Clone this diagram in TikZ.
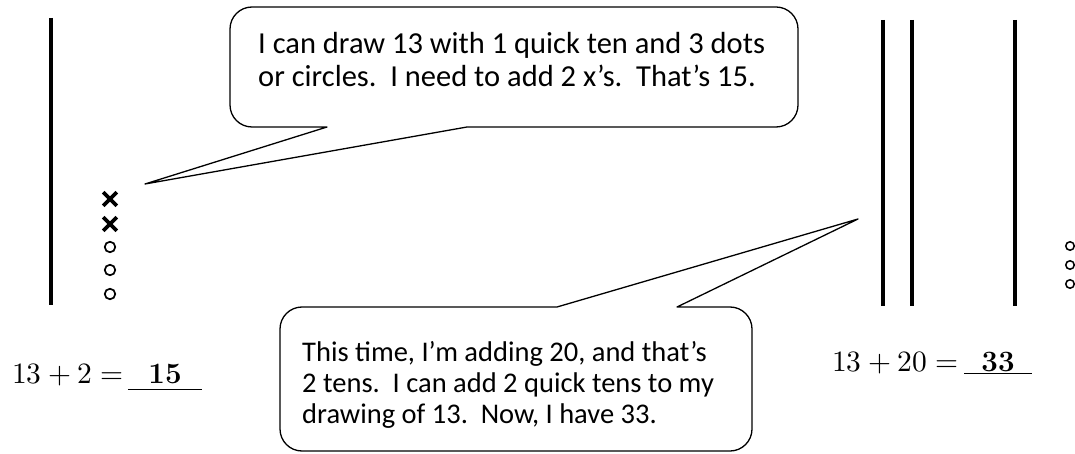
\documentclass[tikz,border=0pt]{standalone}
\usepackage{amsmath}
\usepackage{fontspec}
\usepackage{unicode-math}
\newfontfamily\talkfont{Carlito}
\usepackage{tikz}
\usetikzlibrary{shapes.misc,positioning}
\tikzset{
  ten/.style    ={line width=4.6pt},
  one/.style    ={circle,draw,line width=1.7pt,minimum size=10.5pt,inner sep=0pt},
  more/.style   ={cross out,draw,line width=3.6pt,minimum size=10pt,inner sep=0pt},
  bubble/.style ={draw,line width=1.3pt,line join=round},
  talk/.style   ={align=left,inner sep=0pt,anchor=north west},
  sum/.style    ={font=\fontsize{29.5}{34}\selectfont,inner sep=0pt,anchor=base west},
  ans/.style    ={font=\fontsize{29.5}{34}\selectfont,inner sep=0pt,anchor=base},
  rule/.style   ={line width=1.1pt},
}

\begin{document}
\begin{tikzpicture}[x=1pt,y=-1pt]
  \useasboundingbox (0,0) rectangle (1075,454);

  % 13 + 2
  \draw[ten] (51,18) -- (51,305);
  \node[more] (x1) at (110,199) {};
  \node[more] (x2) at (110,224) {};
  \foreach \y/\n in {247/o1,270/o2,294/o3}
    \node[one] (\n) at (110,\y) {};
  \node[sum] (s1) at (12,383) {$13+2=$};
  \node[ans,minimum width=74pt,text depth=6pt] (a1) at (165,383) {$\mathbf{15}$};
  \draw[rule] (a1.south west) -- (a1.south east);

  % 13 + 20
  \foreach \x in {883,912,1015}
    \draw[ten] (\x,20) -- (\x,306);
  \foreach \y/\n in {246/p1,265/p2,284/p3}
    \node[one,minimum size=8.5pt,line width=1.5pt] (\n) at (1070,\y) {};
  \node[sum] (s2) at (832,371) {$13+20=$};
  \node[ans,minimum width=67pt,text depth=2.5pt] (a2) at (998,371) {$\mathbf{33}$};
  \draw[rule] (a2.south west) -- (a2.south east);

  % speech bubbles
  \draw[bubble] (300,127) -- (327,127) -- (145,184) -- (467,127) -- (490,127)
    [rounded corners=22pt] -- (798,127) -- (798,7) -- (230,7) -- (230,127) -- cycle;
  \node[talk,font=\talkfont\fontsize{30.5}{33}\selectfont] (say1) at (258,32)
    {I can draw 13 with 1 quick ten and 3 dots\\or circles.\ \ I need to add 2 x’s.\ \ That’s 15.};

  \draw[bubble] (530,307) -- (557,307) -- (858,219) -- (677,307) -- (700,307)
    [rounded corners=22pt] -- (752,307) -- (752,451) -- (280,451) -- (280,307) -- cycle;
  \node[talk,font=\talkfont\fontsize{28.5}{31}\selectfont] (say2) at (302,341)
    {This time, I’m adding 20, and that’s\\2 tens.\ \ I can add 2 quick tens to my\\drawing of 13.\ \ Now, I have 33.};
\end{tikzpicture}
\end{document}
